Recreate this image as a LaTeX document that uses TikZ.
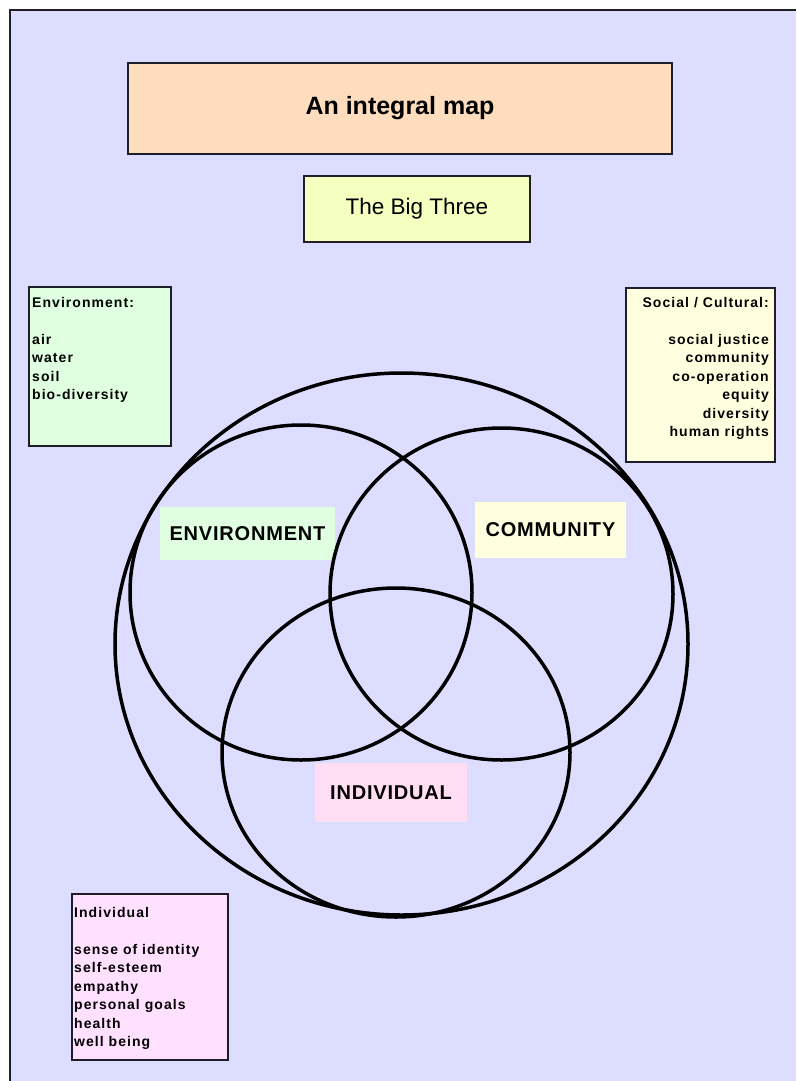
\documentclass[tikz,border=0pt]{standalone}
\usepackage{fontspec}
\setmainfont{Liberation Sans}
\usetikzlibrary{positioning,calc}
\definecolor{pagelilac}{RGB}{221,221,255}
\definecolor{titlepeach}{RGB}{253,221,190}
\definecolor{bigyellow}{RGB}{244,255,192}
\definecolor{envgreen}{RGB}{224,255,224}
\definecolor{socyellow}{RGB}{255,255,224}
\definecolor{indpink}{RGB}{255,224,255}
\definecolor{tagpink}{RGB}{255,222,244}
\definecolor{frameline}{RGB}{30,30,40}

\begin{document}
\begin{tikzpicture}[x=1pt, y=-1pt,
        headbox/.style={rectangle, draw=frameline, line width=1.5pt, inner sep=0pt},
        listbox/.style={rectangle, draw=frameline, line width=1.5pt, inner sep=0pt},
        listtext/.style={inner sep=0pt, font=\fontsize{14}{18.5}\selectfont\bfseries\addfontfeature{LetterSpace=7.5}},
        tag/.style={rectangle, inner sep=0pt, font=\fontsize{20}{24}\selectfont\bfseries\addfontfeature{LetterSpace=4}},
        ring/.style={draw=black, line width=3.5pt}
    ]
        \useasboundingbox (0,0) rectangle (796,1081);

        % Page
        \fill[white] (0,0) rectangle (796,1081);
        \fill[pagelilac] (10,10) rectangle (796,1081);
        \draw[frameline, line width=2.5pt] (10,1081) -- (10,10) -- (796,10);

        % Headings
        \node[headbox, fill=titlepeach, minimum width=544pt, minimum height=91pt, font=\fontsize{25}{30}\selectfont\bfseries] (title) at (400,108.5) {An integral map};
        \node[headbox, fill=bigyellow, minimum width=226pt, minimum height=66pt, font=\fontsize{22.5}{27}\selectfont] (bigthree) at (417,209) {The Big Three};

        % Lists
        \node[listbox, fill=envgreen, minimum width=142pt, minimum height=159pt] (envbox) at (100,366.5) {};
        \node[listtext, align=left, anchor=north west] (envlist) at (32,297) {Environment:\\[18.5pt]air\\water\\soil\\bio-diversity};

        \node[listbox, fill=socyellow, minimum width=149pt, minimum height=174pt] (socbox) at (700.5,375) {};
        \node[listtext, align=right, anchor=north east] (soclist) at (769,297) {Social / Cultural:\\[18.5pt]social justice\\community\\co-operation\\equity\\diversity\\human rights};

        \node[listbox, fill=indpink, minimum width=156pt, minimum height=166pt] (indbox) at (150,977) {};
        \node[listtext, align=left, anchor=north west] (indlist) at (74,907) {Individual\\[18.5pt]sense of identity\\self-esteem\\empathy\\personal goals\\health\\well being};

        % Labels
        \node[tag, fill=envgreen, minimum width=175pt, minimum height=53pt] (envtag) at (247.5,533.5) {ENVIRONMENT};
        \node[tag, fill=socyellow, minimum width=151pt, minimum height=56pt] (comtag) at (550.5,530) {COMMUNITY};
        \node[tag, fill=tagpink, minimum width=152pt, minimum height=59pt] (indtag) at (391,792.5) {INDIVIDUAL};

        % Circles
        \draw[ring] (401.5,644) circle[x radius=286.5pt, y radius=271pt];
        \draw[ring] (301,592.5) circle[x radius=171pt, y radius=167.5pt];
        \draw[ring] (501.5,594) circle[x radius=171.5pt, y radius=166pt];
        \draw[ring] (396,752.5) circle[x radius=174pt, y radius=164.5pt];

    \end{tikzpicture}
\end{document}
